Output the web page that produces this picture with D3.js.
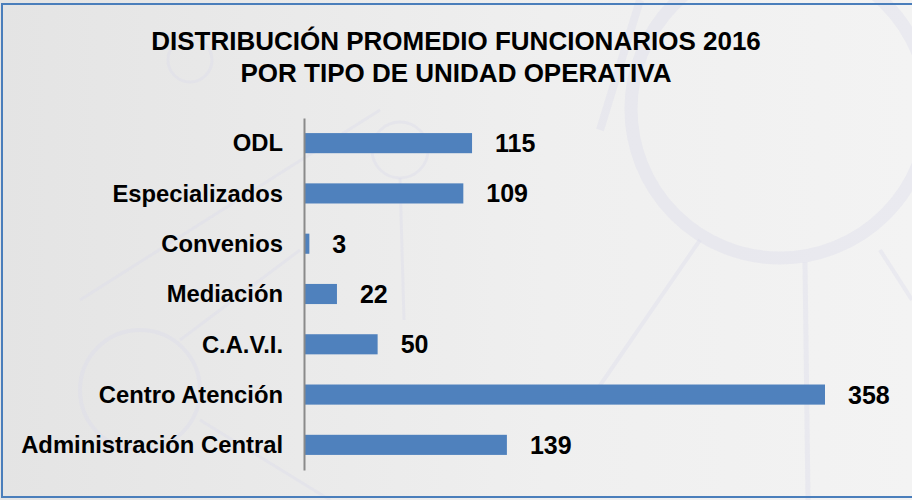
<!DOCTYPE html>
<html>
<head>
<meta charset="utf-8">
<script src="https://cdn.jsdelivr.net/npm/d3@7/dist/d3.min.js"></script>
<style>
  html, body { margin: 0; padding: 0; background: #ececec; }
  svg { display: block; }
  text { font-family: "Liberation Sans", Arial, sans-serif; font-weight: bold; fill: #000; }
</style>
</head>
<body>
<svg id="chart" width="912" height="500"></svg>
<script>
const categories = ["ODL", "Especializados", "Convenios", "Mediación", "C.A.V.I.", "Centro Atención", "Administración Central"];
const values = [115, 109, 3, 22, 50, 358, 139];
const titleLines = ["DISTRIBUCIÓN PROMEDIO FUNCIONARIOS 2016", "POR TIPO DE UNIDAD OPERATIVA"];

const W = 912, H = 500;
const svg = d3.select("#chart");
const defs = svg.append("defs");
const grad = defs.append("linearGradient").attr("id", "bg").attr("x1", "0").attr("x2", "1").attr("y1", "0").attr("y2", "0");
grad.append("stop").attr("offset", "0").attr("stop-color", "#e4e4e4");
grad.append("stop").attr("offset", "0.6").attr("stop-color", "#efefef");
grad.append("stop").attr("offset", "1").attr("stop-color", "#f3f3f3");
svg.append("rect").attr("width", W).attr("height", H).attr("fill", "url(#bg)");

// faint background network decoration
const deco = svg.append("g").attr("fill", "none").attr("stroke", "#dcdcec").attr("stroke-opacity", 0.4);
deco.append("circle").attr("cx", 780).attr("cy", 109).attr("r", 149).attr("stroke-width", 13);
deco.append("line").attr("x1", 700).attr("y1", 240).attr("x2", 590).attr("y2", 400).attr("stroke-width", 4);
deco.append("line").attr("x1", 805).attr("y1", 262).attr("x2", 808).attr("y2", 500).attr("stroke-width", 5);
deco.append("line").attr("x1", 880).attr("y1", 250).attr("x2", 912).attr("y2", 300).attr("stroke-width", 4);
deco.append("circle").attr("cx", 400).attr("cy", 150).attr("r", 28).attr("stroke-width", 3);
deco.append("line").attr("x1", 400).attr("y1", 178).attr("x2", 404).attr("y2", 320).attr("stroke-width", 3);
deco.append("line").attr("x1", 380).attr("y1", 110).attr("x2", 80).attr("y2", 300).attr("stroke-width", 3);
deco.append("circle").attr("cx", 140).attr("cy", 390).attr("r", 60).attr("stroke-width", 4);
deco.append("line").attr("x1", 180).attr("y1", 340).attr("x2", 300).attr("y2", 250).attr("stroke-width", 3);
deco.append("line").attr("x1", 200).attr("y1", 420).attr("x2", 330).attr("y2", 500).attr("stroke-width", 3);
deco.append("line").attr("x1", 640).attr("y1", 0).attr("x2", 600).attr("y2", 130).attr("stroke-width", 8);
deco.append("circle").attr("cx", 190).attr("cy", 60).attr("r", 22).attr("stroke-width", 3);

// border
svg.append("rect").attr("x", 2).attr("y", 4).attr("width", W + 10).attr("height", 493)
  .attr("fill", "none").attr("stroke", "#4a7ebb").attr("stroke-width", 2);

// title
svg.append("g").selectAll("text").data(titleLines).join("text")
  .attr("x", W / 2).attr("y", (d, i) => 50 + i * 32)
  .attr("text-anchor", "middle").attr("font-size", "26px").text(d => d);

const y = d3.scaleBand().domain(categories).range([118, 470]).paddingInner(0.6).paddingOuter(0.3);
const x = d3.scaleLinear().domain([0, 358]).range([305, 825]);

const data = categories.map((c, i) => ({ c, v: values[i] }));

svg.append("g").selectAll("rect").data(data).join("rect")
  .attr("x", x(0)).attr("y", d => y(d.c))
  .attr("width", d => x(d.v) - x(0)).attr("height", y.bandwidth())
  .attr("fill", "#4f81bd");

// y axis
const yAxis = d3.axisLeft(y).tickSize(0).tickPadding(21);
const ag = svg.append("g").attr("transform", "translate(304,0)").call(yAxis);
ag.select(".domain").attr("stroke", "#8a8a8a").attr("stroke-width", 2);
ag.selectAll("text").attr("font-size", "23.8px").attr("font-family", "'Liberation Sans', Arial, sans-serif")
  .attr("font-weight", "bold").attr("fill", "#000").attr("dy", "0.35em");

// value labels
svg.append("g").selectAll("text").data(data).join("text")
  .attr("x", d => x(d.v) + 23).attr("y", d => y(d.c) + y.bandwidth() / 2 + 9)
  .attr("font-size", "25px").text(d => d.v);
</script>
</body>
</html>
